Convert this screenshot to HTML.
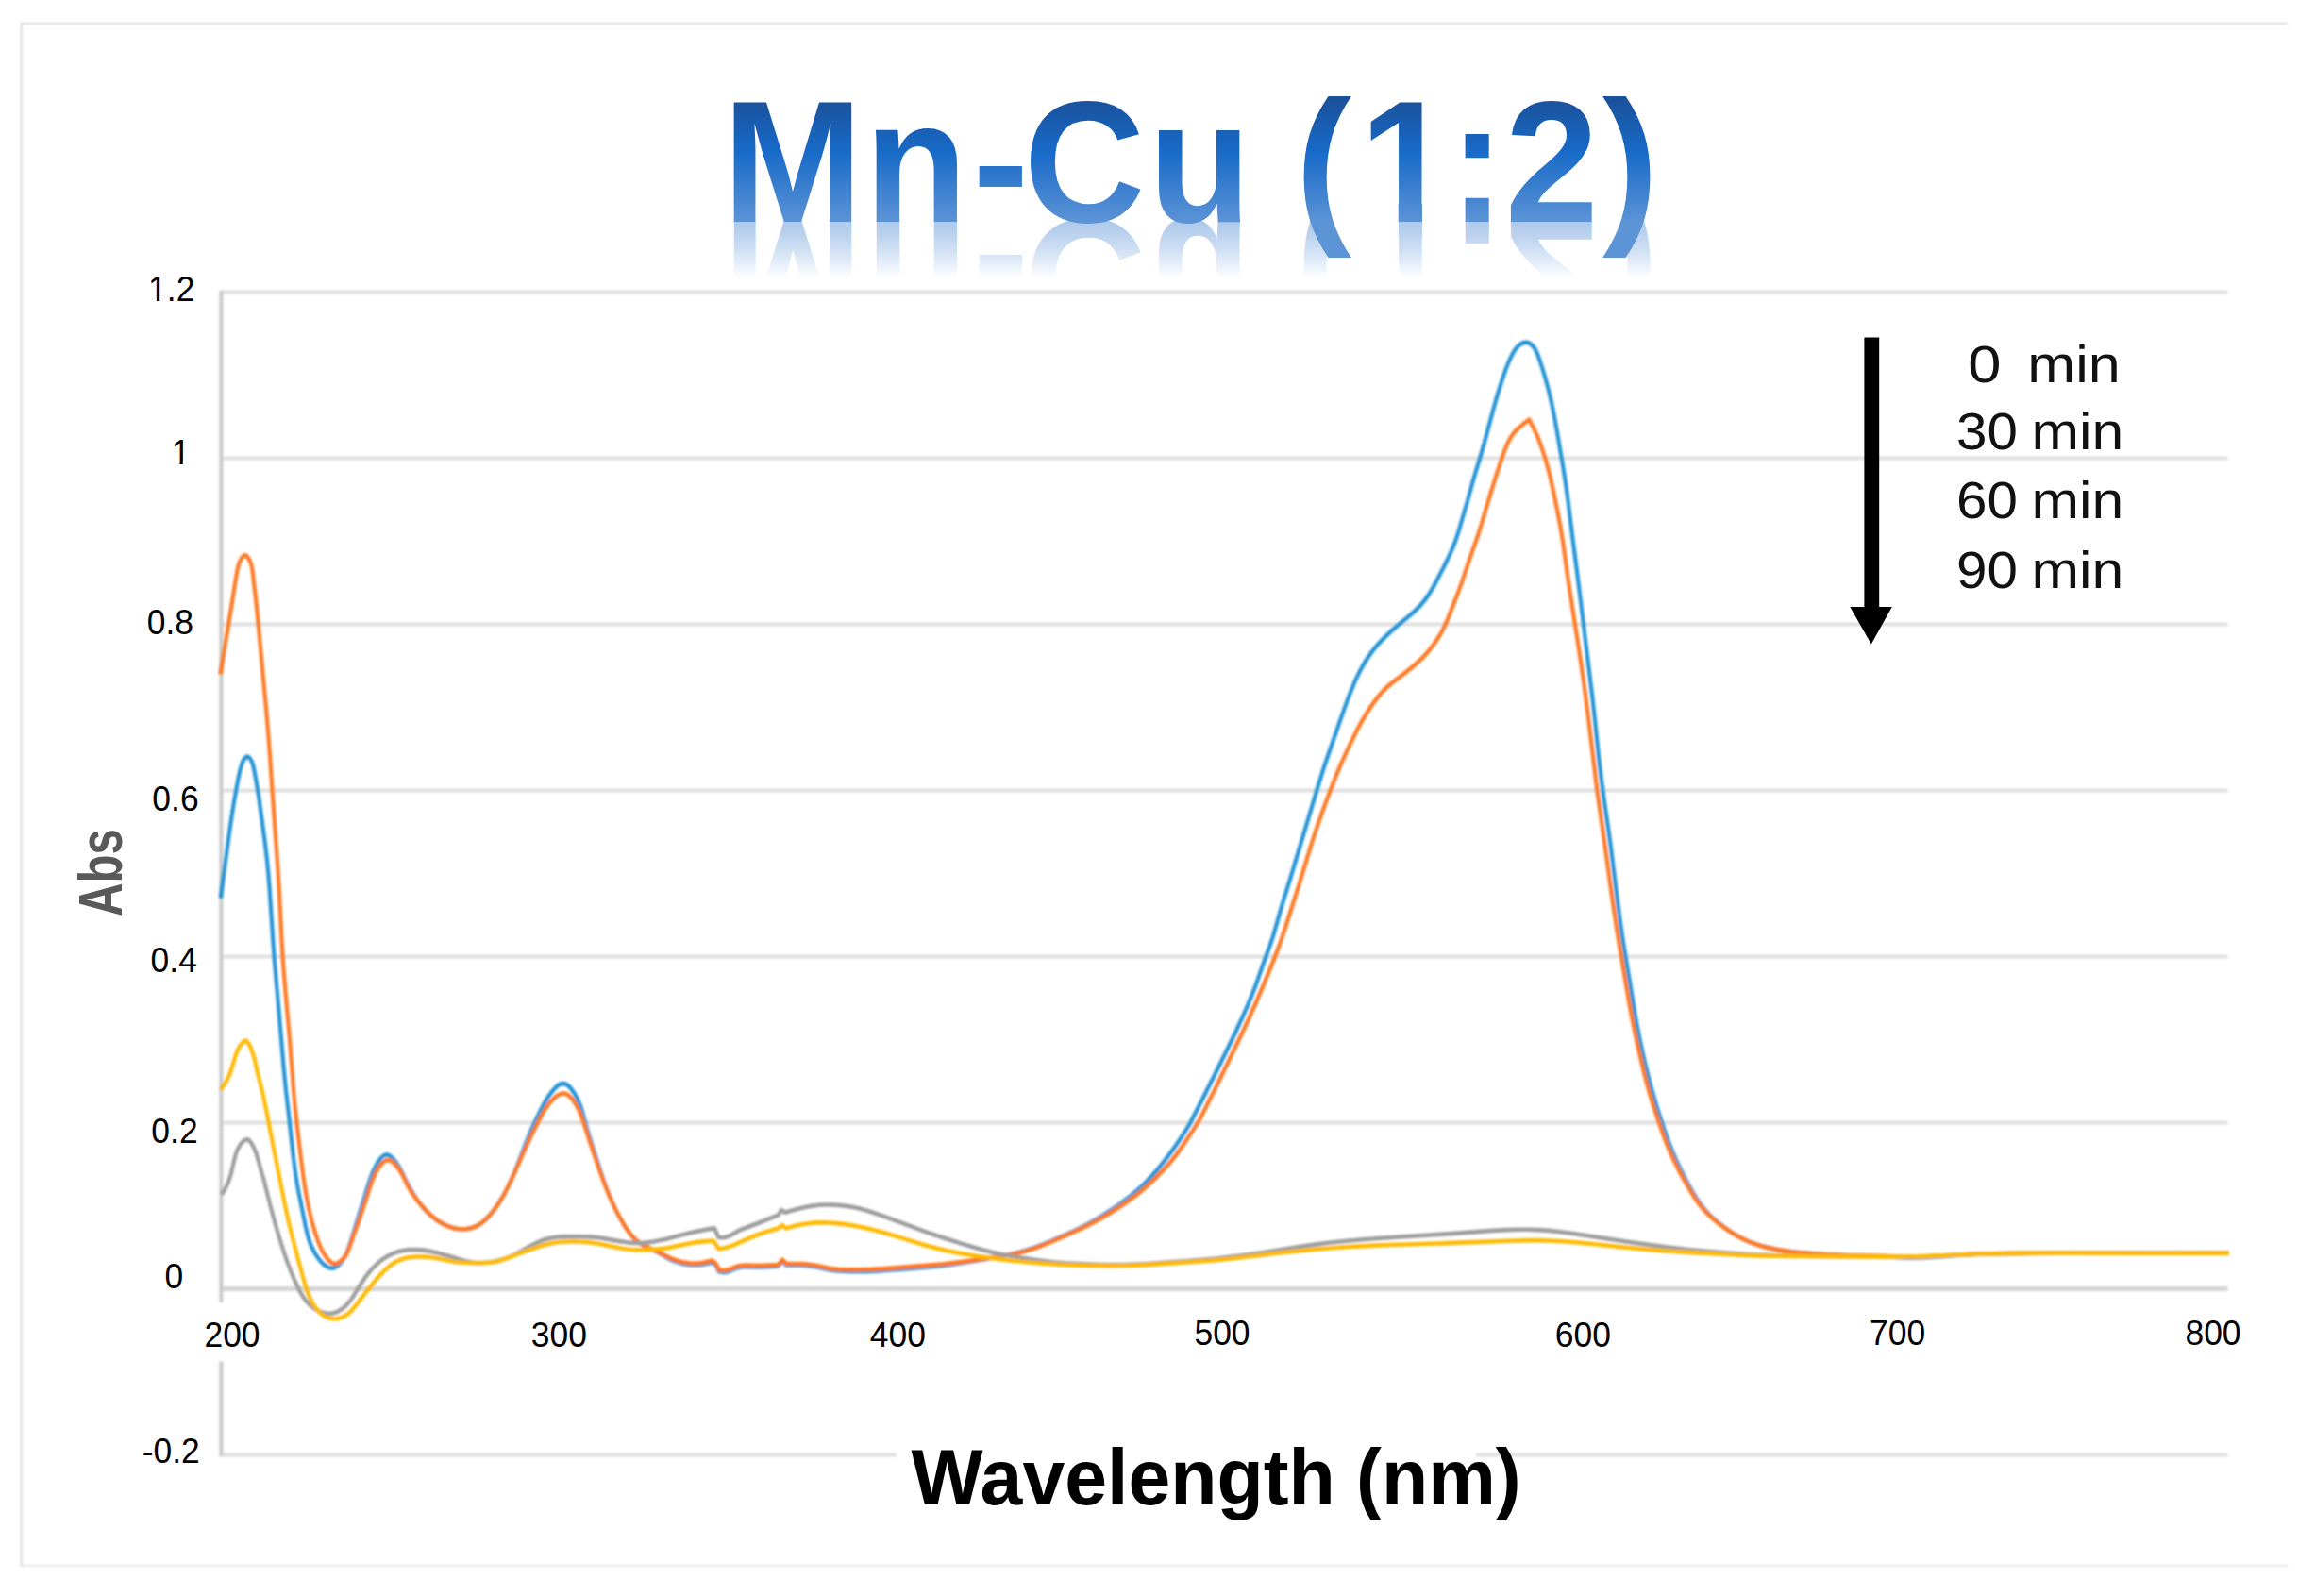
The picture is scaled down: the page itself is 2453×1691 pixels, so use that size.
<!DOCTYPE html>
<html lang="en"><head><meta charset="utf-8"><title>Mn-Cu (1:2) UV-Vis absorbance</title>
<style>html,body{margin:0;padding:0;background:#fff}body{width:2453px;height:1691px;overflow:hidden}svg{display:block}text{font-family:"Liberation Sans",sans-serif}</style></head><body>
<svg width="2453" height="1691" viewBox="0 0 2453 1691">
<defs>
<linearGradient id="tg" gradientUnits="userSpaceOnUse" x1="0" y1="104.5" x2="0" y2="236.5"><stop offset="0" stop-color="#1b519a"/><stop offset="0.42" stop-color="#176ac8"/><stop offset="1" stop-color="#5d94d6"/></linearGradient>
<linearGradient id="rg" gradientUnits="userSpaceOnUse" x1="0" y1="234.5" x2="0" y2="294"><stop offset="0" stop-color="#fff" stop-opacity="0.5"/><stop offset="1" stop-color="#fff" stop-opacity="1"/></linearGradient>
<clipPath id="rc"><rect x="700" y="234" width="1100" height="60"/></clipPath>
<filter id="soft" filterUnits="userSpaceOnUse" x="0" y="0" width="2453" height="1691"><feGaussianBlur stdDeviation="0.8"/></filter>
</defs>
<rect width="2453" height="1691" fill="#fff"/>
<g fill="none" filter="url(#soft)">
<path d="M22 25H2424" stroke="#d9d9d9" stroke-width="1.8"/>
<path d="M22.7 24V1660" stroke="#dcdcdc" stroke-width="2.2"/>
<path d="M22 1659H2424" stroke="#e6e6e6" stroke-width="2"/>
</g>
<g clip-path="url(#rc)">
<g transform="translate(0 468.1) scale(1 -1)"><text aria-hidden="true" font-size="183" font-weight="700" transform="scale(0.973 1)" x="786.9 941.6 1059.3 1114.8 1250.7 1358.7 1410.8 1480.5 1578.0 1638.9 1745.2" y="234.8" fill="url(#tg)">Mn-Cu (1:2)</text></g>
<rect x="700" y="230" width="1100" height="70" fill="url(#rg)"/>
</g>
<g fill="none" stroke-linecap="butt" filter="url(#soft)">
<path d="M234.5 309.5H2360.5" stroke="#e0e0e0" stroke-width="4"/>
<path d="M234.5 485.5H2360.5" stroke="#e0e0e0" stroke-width="4"/>
<path d="M234.5 661.5H2360.5" stroke="#e0e0e0" stroke-width="4"/>
<path d="M234.5 837.5H2360.5" stroke="#e0e0e0" stroke-width="4"/>
<path d="M234.5 1013.5H2360.5" stroke="#e0e0e0" stroke-width="4"/>
<path d="M234.5 1189.5H2360.5" stroke="#e0e0e0" stroke-width="4"/>
<path d="M234.5 1365.5H2360.5" stroke="#d6d6d6" stroke-width="5"/>
<path d="M234.5 1541.5H950M1564 1541.5H2360.5" stroke="#e0e0e0" stroke-width="4"/>
<path d="M234.4 307.7V1380M234.4 1442.6V1543.3" stroke="#cbcbcb" stroke-width="4.2"/>
</g>
<text font-size="183" font-weight="700" transform="scale(0.973 1)" x="786.9 941.6 1059.3 1114.8 1250.7 1358.7 1410.8 1480.5 1578.0 1638.9 1745.2" y="234.8" fill="url(#tg)">Mn-Cu (1:2)</text>
<path d="M1447 214H1481.7V256.5H1447ZM1507 214H1540V256.5H1507Z" fill="#fff"/>
<g filter="url(#soft)"><g fill="none" stroke-width="4.2" stroke-linejoin="round" stroke-linecap="butt" transform="scale(1 1.1)">
<path d="M233.80 865.18L242.76 803.87 245.36 787.28 247.77 773.61 250.80 757.89 252.78 748.66 254.56 741.49 256.06 736.44 256.91 734.33 257.60 732.96 258.89 731.01 259.93 729.84 261.07 729.00 261.67 728.79 262.26 728.77 262.85 728.93 263.44 729.25 264.00 729.71 265.07 730.89 266.00 732.24 266.77 733.62 267.42 735.02 268.18 737.15 269.07 740.74 272.10 755.80 274.07 766.55 280.75 811.27 282.98 828.62 284.42 842.39 285.70 856.90 289.29 906.28 290.82 925.15 295.64 975.17 300.72 1029.56 302.84 1049.12 306.12 1075.14 310.27 1109.89 311.88 1122.18 313.42 1132.27 314.82 1140.16 316.55 1148.73 323.70 1180.90 325.90 1189.44 327.00 1192.93 328.26 1196.38 330.33 1201.09 332.43 1205.01 334.85 1208.80 337.59 1212.43 340.12 1215.31 342.39 1217.40 344.92 1219.22 346.31 1220.00 347.77 1220.67 350.05 1221.34 351.58 1221.49 352.35 1221.45 353.10 1221.34 354.58 1220.93 356.72 1219.89 358.07 1218.98 359.35 1217.95 361.68 1215.66 364.11 1212.61 366.09 1209.41 368.32 1204.75 371.16 1197.21 391.01 1139.12 392.45 1135.17 394.10 1131.15 395.71 1127.70 397.61 1124.13 399.86 1120.40 401.91 1117.50 403.57 1115.55 405.32 1113.95 407.15 1112.81 408.40 1112.37 409.68 1112.23 410.33 1112.28 411.62 1112.62 412.92 1113.24 414.21 1114.09 415.48 1115.12 416.71 1116.29 418.47 1118.20 421.07 1121.47 423.70 1125.34 425.95 1129.17 430.99 1138.69 433.90 1143.78 437.95 1150.07 441.98 1155.59 444.37 1158.56 446.87 1161.44 449.49 1164.21 452.24 1166.88 455.11 1169.42 457.50 1171.36 460.61 1173.65 463.21 1175.37 466.58 1177.35 469.37 1178.80 472.98 1180.39 475.96 1181.49 479.02 1182.40 482.14 1183.12 485.32 1183.62 488.52 1183.88 491.75 1183.88 494.97 1183.61 498.16 1183.07 500.50 1182.49 503.52 1181.48 505.69 1180.54 508.44 1179.06 511.04 1177.35 514.09 1174.96 517.50 1171.83 520.70 1168.54 524.18 1164.53 526.98 1160.98 530.04 1156.70 532.91 1152.33 535.98 1147.21 540.24 1139.37 544.75 1130.04 548.34 1121.95 557.59 1100.23 563.23 1088.04 567.20 1080.04 571.27 1072.26 574.72 1065.98 577.32 1061.64 579.82 1057.91 582.17 1054.75 585.38 1050.89 587.77 1048.38 590.30 1046.17 592.26 1044.87 594.24 1043.97 596.23 1043.59 596.89 1043.59 598.21 1043.79 600.14 1044.54 602.03 1045.74 604.44 1047.91 606.69 1050.52 608.74 1053.37 610.98 1056.97 613.21 1061.19 615.03 1065.32 616.78 1070.08 621.92 1087.01 626.63 1100.92 636.79 1129.46 639.63 1137.01 642.35 1143.85 644.66 1149.29 647.09 1154.68 649.35 1159.34 651.74 1163.94 654.27 1168.48 656.93 1172.96 660.13 1178.02 663.08 1182.39 666.71 1187.22 668.69 1189.51 670.26 1191.16 671.92 1192.72 674.29 1194.67 676.17 1196.04 678.79 1197.72 681.52 1199.27 684.34 1200.68 693.76 1204.72 697.33 1206.37 706.32 1211.14 709.13 1212.53 712.75 1214.06 717.26 1215.57 721.90 1216.74 726.64 1217.62 731.44 1218.20 736.25 1218.43 740.25 1218.33 744.22 1217.92 748.15 1217.26 754.40 1215.91 756.62 1217.20 757.92 1218.20 758.48 1218.77 759.82 1220.75 760.51 1222.22 761.40 1224.55 764.64 1225.18 767.04 1225.42 768.62 1225.39 770.94 1225.00 773.22 1224.29 778.52 1222.17 780.82 1221.38 783.17 1220.81 785.56 1220.46 787.98 1220.27 790.43 1220.21 800.29 1220.46 806.82 1220.43 814.11 1220.16 824.60 1219.55 829.00 1215.00 833.30 1218.64 841.34 1218.56 846.96 1218.63 851.75 1218.83 856.52 1219.20 862.84 1220.05 878.54 1222.94 882.49 1223.49 887.26 1224.01 896.05 1224.60 905.67 1224.82 916.88 1224.68 928.87 1224.20 941.65 1223.46 957.61 1222.37 981.55 1220.61 995.09 1219.44 1003.84 1218.52 1013.35 1217.33 1038.64 1213.62 1052.03 1211.46 1064.61 1209.26 1074.00 1207.41 1081.76 1205.66 1089.45 1203.64 1097.06 1201.35 1105.31 1198.56 1113.45 1195.52 1133.23 1187.59 1143.41 1183.33 1151.99 1179.41 1160.37 1175.15 1166.54 1171.77 1172.64 1168.28 1178.67 1164.69 1184.61 1161.00 1189.82 1157.61 1194.95 1154.11 1199.98 1150.49 1204.28 1147.22 1211.38 1141.35 1214.79 1138.27 1218.65 1134.58 1226.59 1126.39 1234.15 1117.92 1242.28 1108.00 1250.48 1097.23 1257.81 1086.81 1260.66 1082.42 1262.97 1078.60 1275.34 1056.56 1287.88 1033.79 1300.27 1010.96 1309.65 993.26 1316.04 980.71 1321.53 969.40 1326.43 958.64 1330.76 948.46 1340.07 924.44 1345.89 910.11 1348.68 902.52 1351.21 894.86 1358.23 872.46 1368.22 843.28 1396.52 757.57 1402.47 740.20 1406.04 730.55 1423.68 684.52 1429.82 669.51 1434.95 658.05 1437.56 652.73 1440.36 647.49 1442.98 642.99 1445.78 638.56 1448.76 634.24 1451.94 630.03 1455.30 625.95 1458.33 622.57 1461.51 619.29 1465.36 615.59 1469.34 612.00 1473.43 608.51 1481.24 602.26 1494.80 592.05 1499.56 588.15 1502.42 585.59 1505.16 582.93 1509.79 577.91 1513.51 573.18 1517.71 566.99 1521.94 559.95 1530.06 545.73 1534.98 536.58 1538.89 528.60 1542.13 521.16 1544.95 513.58 1554.87 482.86 1561.46 461.12 1568.00 441.63 1570.92 432.55 1574.34 421.33 1582.02 395.34 1585.92 382.73 1590.86 368.12 1593.39 361.22 1595.80 355.06 1598.46 348.98 1601.14 343.67 1603.84 339.13 1605.14 337.25 1606.57 335.46 1608.16 333.81 1609.33 332.80 1611.27 331.45 1612.70 330.70 1614.20 330.12 1615.74 329.77 1617.29 329.71 1618.06 329.80 1618.82 329.97 1620.30 330.51 1621.70 331.27 1623.00 332.19 1624.16 333.22 1625.20 334.33 1626.13 335.52 1627.35 337.42 1629.32 341.50 1631.79 347.76 1634.51 355.38 1637.23 363.70 1639.80 372.10 1641.80 379.16 1643.64 386.25 1645.46 394.08 1647.56 404.08 1650.67 419.84 1656.55 451.40 1659.13 466.50 1661.12 479.47 1666.09 516.30 1671.77 555.98 1674.54 576.19 1687.49 672.97 1689.61 690.33 1693.97 728.68 1696.75 750.37 1699.29 767.67 1704.48 800.07 1706.67 814.48 1713.44 864.31 1715.80 880.91 1718.79 900.36 1721.98 919.05 1726.92 945.60 1732.54 977.20 1734.65 987.94 1736.95 998.65 1739.93 1011.47 1743.32 1024.95 1746.77 1037.66 1750.29 1049.61 1754.30 1062.19 1758.58 1074.70 1763.35 1087.82 1767.38 1098.11 1771.15 1106.92 1775.25 1115.62 1779.97 1124.86 1784.96 1133.97 1789.86 1142.32 1795.06 1150.53 1799.36 1156.68 1803.57 1161.99 1807.66 1166.46 1812.07 1170.67 1817.37 1175.13 1822.96 1179.32 1829.41 1183.69 1836.08 1187.77 1842.27 1191.13 1848.66 1194.12 1854.53 1196.44 1861.31 1198.67 1868.22 1200.56 1875.23 1202.16 1883.07 1203.64 1890.97 1204.84 1898.90 1205.80 1908.45 1206.69 1931.60 1208.26 1949.18 1209.20 1961.17 1209.58 1990.78 1210.20 1998.78 1210.49 2014.76 1211.29 2024.35 1211.47 2033.14 1211.36 2042.74 1210.99 2075.52 1209.00 2092.32 1208.22 2111.51 1207.63 2133.91 1207.23 2157.91 1207.00 2185.12 1206.91 2278.77 1207.04 2362.00 1207.00" stroke="#2193d6"/>
<path d="M233.50 649.45L245.21 584.12 249.83 557.42 251.48 548.97 252.58 544.79 253.97 541.24 255.12 539.06 256.03 537.60 257.05 536.28 258.15 535.28 258.71 534.96 259.28 534.78 259.85 534.77 260.42 534.92 260.98 535.23 262.08 536.20 263.11 537.50 264.03 538.96 264.82 540.44 265.79 542.63 266.51 544.80 267.06 546.94 267.75 551.19 268.84 560.45 271.16 577.85 272.25 587.27 281.94 682.17 284.08 704.64 285.65 723.51 288.88 766.34 294.58 838.92 296.05 861.44 298.57 907.23 300.11 929.01 301.91 949.32 307.28 1004.41 311.33 1053.76 312.85 1068.24 315.02 1086.33 319.23 1118.12 321.10 1131.09 322.70 1141.15 324.23 1149.77 325.96 1158.38 327.77 1166.27 329.63 1173.41 331.92 1181.19 334.48 1188.82 337.32 1196.24 339.69 1201.51 342.21 1206.04 344.88 1209.90 346.43 1211.83 348.13 1213.69 349.34 1214.81 350.61 1215.78 352.62 1216.83 354.01 1217.17 354.72 1217.22 356.17 1217.06 358.35 1216.28 360.47 1215.02 363.05 1212.88 365.21 1210.52 367.38 1207.40 368.80 1204.78 370.28 1201.40 374.68 1189.71 381.74 1171.89 386.15 1160.07 392.89 1141.00 394.18 1137.69 395.64 1134.37 397.33 1131.00 398.90 1128.27 400.71 1125.48 402.78 1122.70 404.47 1120.79 406.28 1119.18 408.17 1118.00 409.48 1117.51 410.81 1117.32 411.48 1117.34 412.84 1117.62 414.20 1118.16 415.55 1118.93 416.87 1119.89 418.16 1120.99 419.99 1122.82 422.68 1126.04 425.33 1129.92 427.55 1133.78 431.58 1141.42 434.21 1145.77 437.21 1150.04 440.50 1154.20 443.49 1157.68 447.12 1161.64 450.33 1164.93 453.10 1167.56 455.98 1170.08 458.38 1172.00 461.51 1174.26 464.13 1175.95 467.54 1177.88 470.36 1179.27 473.28 1180.51 476.27 1181.59 479.34 1182.48 482.46 1183.18 485.64 1183.65 488.04 1183.85 491.26 1183.90 494.49 1183.67 497.68 1183.17 500.03 1182.62 503.07 1181.65 505.26 1180.74 507.36 1179.68 510.02 1178.06 513.13 1175.76 516.05 1173.22 519.34 1169.99 522.42 1166.62 525.32 1163.12 528.04 1159.53 531.04 1155.22 533.85 1150.81 537.97 1143.74 542.14 1135.86 557.05 1105.27 563.51 1092.68 567.43 1085.48 571.47 1078.39 575.22 1072.09 578.03 1067.79 580.25 1064.80 582.75 1061.89 585.01 1059.62 587.53 1057.42 590.28 1055.45 592.43 1054.26 594.61 1053.45 596.78 1053.12 597.49 1053.13 598.89 1053.36 600.92 1054.16 602.87 1055.40 604.71 1056.98 606.99 1059.46 609.04 1062.13 611.25 1065.49 613.14 1068.83 615.05 1072.84 616.93 1077.52 625.02 1100.06 634.63 1125.66 638.98 1136.59 643.03 1146.08 648.05 1156.80 650.75 1162.08 653.24 1166.64 656.23 1171.78 658.98 1176.22 661.86 1180.62 664.46 1184.32 667.75 1188.46 669.80 1190.69 671.44 1192.28 674.99 1195.22 676.89 1196.56 679.55 1198.21 682.31 1199.70 685.89 1201.35 696.19 1205.38 709.09 1211.21 712.02 1212.38 715.01 1213.43 720.36 1214.94 725.07 1215.90 729.85 1216.55 734.66 1216.85 739.48 1216.76 743.45 1216.38 748.16 1215.57 754.40 1214.18 756.62 1215.53 757.92 1216.56 758.47 1217.15 759.81 1219.16 760.51 1220.65 761.40 1223.00 763.87 1223.38 766.32 1223.62 768.73 1223.56 771.09 1223.14 773.42 1222.44 780.37 1219.96 782.75 1219.39 785.97 1218.95 790.90 1218.77 800.02 1219.00 806.62 1218.99 813.99 1218.75 824.60 1218.18 829.00 1213.36 833.30 1217.27 846.17 1217.24 850.97 1217.41 855.75 1217.76 858.91 1218.11 862.85 1218.70 877.78 1221.45 882.53 1222.07 887.31 1222.51 896.92 1222.95 909.77 1222.96 923.38 1222.61 937.76 1221.89 987.29 1218.54 1000.05 1217.53 1014.36 1216.01 1044.51 1212.22 1059.56 1210.16 1071.40 1208.27 1079.23 1206.75 1086.21 1205.12 1093.11 1203.24 1100.69 1200.87 1107.43 1198.53 1114.83 1195.75 1141.23 1185.20 1147.76 1182.44 1154.22 1179.52 1160.59 1176.46 1166.88 1173.25 1174.47 1169.18 1181.28 1165.35 1188.00 1161.38 1193.95 1157.68 1199.81 1153.86 1205.55 1149.89 1210.54 1146.22 1215.39 1142.42 1220.11 1138.48 1224.68 1134.40 1230.82 1128.65 1235.73 1123.85 1239.44 1120.03 1242.52 1116.68 1245.98 1112.67 1249.33 1108.58 1255.26 1100.80 1268.08 1083.19 1270.11 1080.06 1272.01 1076.86 1286.47 1050.86 1307.13 1012.24 1317.83 991.87 1324.86 977.98 1331.32 964.66 1339.11 947.89 1347.93 928.36 1352.06 918.88 1355.17 911.39 1357.87 904.54 1360.94 896.26 1374.84 856.73 1389.87 812.18 1394.32 799.72 1398.46 788.69 1405.59 770.91 1414.79 749.16 1420.62 736.38 1426.59 724.46 1437.05 704.79 1440.37 698.98 1443.47 693.89 1447.58 687.64 1451.48 682.12 1456.06 676.12 1459.95 671.45 1462.49 668.63 1465.15 665.91 1467.94 663.30 1470.85 660.82 1476.40 656.64 1488.54 648.27 1495.43 643.28 1501.48 638.51 1507.26 633.46 1510.56 630.29 1513.22 627.56 1518.22 621.86 1522.81 615.89 1524.93 612.80 1527.34 609.01 1529.22 605.80 1531.35 601.88 1534.86 594.54 1545.23 570.07 1549.35 559.82 1557.43 537.71 1564.15 520.56 1566.71 513.67 1570.29 503.24 1580.13 473.24 1584.88 459.34 1591.60 440.65 1593.75 435.16 1595.51 431.09 1597.80 426.42 1600.03 422.52 1602.14 419.42 1604.53 416.51 1606.67 414.36 1609.59 411.88 1613.30 409.07 1620.20 404.09 1625.49 413.07 1627.53 417.03 1629.40 421.05 1631.70 426.49 1634.39 433.35 1636.66 439.57 1638.52 445.14 1641.79 456.40 1645.52 471.30 1650.39 492.68 1653.94 509.85 1656.79 526.39 1661.25 555.96 1663.32 568.92 1673.11 625.73 1677.42 652.37 1680.09 670.40 1683.12 692.07 1690.55 748.43 1692.65 763.60 1700.32 812.60 1706.84 855.86 1710.02 876.04 1713.03 894.03 1716.19 911.99 1725.81 963.66 1729.72 982.99 1734.15 1002.22 1738.19 1018.56 1741.51 1031.31 1744.68 1042.59 1747.68 1052.41 1751.64 1064.25 1756.12 1076.70 1761.37 1090.46 1765.58 1100.68 1769.24 1108.76 1773.53 1117.39 1778.13 1125.88 1783.39 1134.87 1788.97 1143.71 1794.86 1152.40 1799.37 1158.43 1803.78 1163.60 1808.05 1167.92 1813.22 1172.49 1818.71 1176.77 1824.45 1180.79 1831.05 1184.99 1837.83 1188.89 1844.12 1192.09 1850.60 1194.92 1856.53 1197.12 1863.36 1199.25 1870.30 1201.06 1877.32 1202.58 1885.18 1203.98 1893.09 1205.12 1901.84 1206.11 1911.40 1206.95 1928.17 1208.01 1945.77 1208.76 1958.57 1209.08 1989.79 1209.60 2014.59 1210.48 2024.19 1210.62 2032.19 1210.53 2041.79 1210.23 2073.80 1208.65 2089.00 1208.06 2106.61 1207.61 2127.42 1207.31 2156.24 1207.08 2188.26 1206.98 2362.00 1207.00" stroke="#ff7820"/>
<path d="M234.80 1150.64L237.71 1146.27 239.63 1143.07 241.32 1139.77 242.78 1136.38 244.04 1132.90 245.35 1128.67 248.54 1115.95 249.54 1112.49 250.83 1109.07 252.55 1105.68 254.34 1103.01 255.98 1101.02 257.83 1099.22 259.12 1098.28 260.43 1097.67 261.72 1097.47 262.96 1097.77 263.56 1098.09 264.70 1099.00 266.29 1100.87 268.54 1104.52 270.29 1108.07 271.90 1112.19 279.96 1137.86 286.22 1160.46 289.50 1171.73 292.77 1182.26 295.97 1192.04 300.80 1205.90 304.98 1216.88 309.29 1227.08 313.45 1235.85 317.38 1243.17 319.36 1246.39 321.07 1248.88 322.91 1251.28 324.89 1253.57 327.03 1255.72 328.75 1257.24 331.21 1259.12 333.18 1260.40 335.95 1261.92 338.12 1262.90 341.13 1263.97 343.47 1264.59 345.86 1265.01 348.27 1265.22 350.67 1265.17 353.04 1264.85 355.35 1264.25 357.59 1263.42 359.75 1262.37 362.48 1260.72 364.40 1259.33 366.77 1257.32 369.97 1254.05 372.83 1250.53 375.47 1246.86 383.10 1235.61 385.80 1231.96 388.63 1228.41 391.61 1224.98 394.78 1221.69 398.15 1218.57 401.14 1216.11 404.28 1213.81 406.91 1212.09 410.32 1210.14 413.15 1208.74 416.06 1207.50 419.05 1206.45 422.12 1205.57 425.24 1204.86 430.80 1204.01 434.01 1203.74 437.23 1203.61 443.66 1203.74 446.86 1203.99 450.85 1204.44 457.98 1205.61 465.02 1207.15 472.72 1209.14 488.06 1213.43 495.05 1215.08 498.98 1215.77 502.95 1216.22 506.95 1216.43 511.78 1216.39 517.41 1215.97 523.80 1215.03 530.08 1213.68 536.22 1211.93 541.44 1210.08 546.51 1207.93 551.45 1205.55 564.10 1199.13 568.42 1197.16 572.09 1195.67 576.58 1194.14 580.40 1193.12 585.07 1192.23 589.82 1191.64 596.24 1191.23 603.53 1191.09 618.06 1191.14 626.85 1191.45 631.62 1191.82 637.16 1192.48 656.12 1195.55 664.07 1196.61 668.06 1196.97 672.06 1197.20 676.06 1197.27 680.07 1197.16 684.07 1196.90 688.06 1196.49 692.82 1195.85 697.55 1195.05 706.94 1193.15 727.92 1188.26 737.28 1186.25 745.92 1184.68 757.00 1183.09 761.40 1191.82 764.72 1191.99 767.16 1191.93 769.52 1191.56 772.54 1190.57 774.74 1189.56 781.99 1185.77 787.23 1183.58 802.55 1178.40 824.60 1170.36 828.00 1165.45 831.60 1167.91 844.70 1164.55 850.15 1163.34 854.85 1162.43 859.59 1161.67 864.35 1161.08 868.33 1160.73 873.13 1160.50 877.94 1160.45 883.55 1160.60 889.15 1160.94 894.73 1161.45 900.29 1162.16 905.01 1162.94 909.70 1163.89 914.34 1164.99 922.78 1167.31 932.65 1170.38 949.22 1175.80 981.50 1186.68 990.57 1189.57 1000.44 1192.56 1018.75 1197.86 1032.55 1201.63 1044.92 1204.68 1056.61 1207.20 1066.81 1209.09 1078.64 1210.96 1099.22 1213.83 1111.92 1215.35 1119.09 1216.00 1127.87 1216.58 1161.46 1218.02 1171.87 1218.26 1182.28 1218.31 1191.89 1218.19 1202.29 1217.87 1215.89 1217.23 1235.86 1216.07 1267.80 1213.94 1290.92 1211.98 1313.98 1209.51 1338.56 1206.39 1376.54 1200.98 1391.59 1198.96 1407.46 1197.11 1424.98 1195.42 1441.73 1194.08 1460.90 1192.76 1536.80 1188.33 1581.52 1185.33 1595.91 1184.61 1608.71 1184.29 1619.92 1184.34 1630.33 1184.68 1641.51 1185.38 1651.86 1186.35 1665.35 1188.01 1724.73 1196.11 1744.55 1198.71 1767.57 1201.44 1789.05 1203.61 1812.17 1205.59 1834.52 1207.18 1852.90 1208.18 1873.70 1208.95 1895.31 1209.49 1920.93 1209.92 1944.15 1210.15 1985.78 1210.32 2013.00 1210.86 2021.00 1210.91 2029.80 1210.78 2039.40 1210.44 2072.19 1208.72 2085.79 1208.15 2103.40 1207.67 2123.41 1207.35 2153.03 1207.11 2186.66 1206.99 2362.00 1207.00" stroke="#9e9e9e"/>
<path d="M234.00 1049.45L236.76 1045.87 238.92 1042.80 240.48 1040.26 242.21 1036.97 243.74 1033.58 245.36 1029.44 249.01 1018.38 250.25 1014.98 252.14 1010.93 254.23 1007.56 255.76 1005.54 257.48 1003.73 258.67 1002.89 259.84 1002.52 260.41 1002.56 260.97 1002.73 262.04 1003.46 263.04 1004.59 264.43 1006.77 265.66 1009.21 267.03 1012.34 268.14 1015.31 269.05 1018.14 269.99 1021.55 272.66 1032.33 277.19 1048.68 279.21 1056.56 281.99 1068.67 289.76 1105.11 300.55 1154.40 303.63 1167.95 306.24 1178.62 309.30 1189.94 317.41 1218.10 321.17 1230.78 323.64 1238.53 326.23 1245.46 327.74 1248.84 329.08 1251.49 330.56 1254.08 332.19 1256.61 334.00 1259.05 335.99 1261.39 338.18 1263.56 339.96 1265.05 341.86 1266.39 343.90 1267.58 346.06 1268.57 348.33 1269.36 350.68 1269.92 353.08 1270.22 354.69 1270.26 357.10 1270.10 359.49 1269.67 361.82 1269.00 363.32 1268.43 365.49 1267.42 367.53 1266.24 369.43 1264.91 372.35 1262.42 375.53 1259.11 387.31 1245.15 398.33 1232.69 403.65 1227.24 408.20 1223.09 411.23 1220.65 414.41 1218.38 417.06 1216.72 419.82 1215.23 422.68 1213.95 425.66 1212.90 428.72 1212.06 431.86 1211.42 435.86 1210.86 440.70 1210.50 445.55 1210.40 450.37 1210.53 455.96 1210.95 461.52 1211.64 466.25 1212.42 479.60 1214.93 483.55 1215.49 487.51 1215.88 494.71 1216.24 507.61 1216.41 514.06 1216.31 519.66 1215.95 522.82 1215.58 525.95 1215.06 529.05 1214.38 532.11 1213.55 536.66 1212.11 550.16 1207.38 562.95 1203.13 571.31 1200.53 577.47 1198.88 582.91 1197.69 588.42 1196.82 594.79 1196.18 601.21 1195.87 607.65 1195.81 614.08 1195.94 619.69 1196.22 625.28 1196.68 630.04 1197.24 634.77 1197.96 652.81 1201.42 660.71 1202.66 665.48 1203.18 671.08 1203.59 675.89 1203.79 681.51 1203.85 687.13 1203.74 691.94 1203.52 697.53 1203.10 702.31 1202.61 707.07 1201.98 711.81 1201.23 729.07 1197.90 736.15 1196.74 740.12 1196.25 744.89 1195.80 756.10 1195.09 761.40 1203.00 766.24 1202.23 769.43 1201.59 772.56 1200.79 775.64 1199.83 780.94 1197.85 793.65 1192.61 801.99 1189.55 811.26 1186.64 824.60 1183.09 829.00 1179.91 832.50 1183.09 843.36 1180.53 851.19 1179.05 858.33 1178.12 862.33 1177.79 866.33 1177.60 871.13 1177.53 876.74 1177.67 882.34 1177.99 888.72 1178.51 895.09 1179.17 901.43 1179.99 906.96 1180.84 913.24 1181.98 924.15 1184.32 937.30 1187.56 951.12 1191.26 976.38 1198.31 989.49 1201.65 998.05 1203.56 1007.44 1205.42 1016.87 1207.08 1026.34 1208.56 1041.38 1210.64 1056.46 1212.50 1069.98 1213.96 1085.91 1215.43 1103.46 1216.85 1117.83 1217.79 1130.63 1218.38 1144.23 1218.75 1177.07 1219.17 1187.48 1219.14 1197.08 1218.96 1213.87 1218.25 1268.23 1215.15 1284.99 1213.99 1300.13 1212.67 1313.66 1211.30 1352.62 1207.05 1380.50 1204.42 1395.65 1203.17 1410.81 1202.06 1425.19 1201.13 1439.58 1200.33 1454.77 1199.64 1470.77 1199.07 1532.40 1197.37 1598.02 1195.22 1620.43 1194.65 1630.04 1194.69 1641.24 1194.98 1652.44 1195.48 1663.62 1196.17 1682.77 1197.70 1721.00 1201.30 1738.53 1202.85 1756.08 1204.20 1774.45 1205.40 1793.64 1206.44 1838.41 1208.62 1855.21 1209.22 1872.82 1209.62 1901.65 1209.93 2013.75 1210.57 2024.15 1210.44 2036.16 1210.13 2075.36 1208.59 2094.57 1207.97 2116.18 1207.49 2138.60 1207.19 2180.24 1207.01 2274.72 1207.24 2362.00 1207.18" stroke="#ffb900"/>
</g></g>
<g font-size="36.9" fill="#000" text-anchor="middle">
<text transform="translate(181.7 319.0) scale(0.961 1)">1.2</text>
<text transform="translate(191.5 491.8) scale(0.961 1)">1</text>
<text transform="translate(180.4 672.0) scale(0.961 1)">0.8</text>
<text transform="translate(186.0 859.2) scale(0.961 1)">0.6</text>
<text transform="translate(184.2 1029.5) scale(0.961 1)">0.4</text>
<text transform="translate(185.0 1210.8) scale(0.961 1)">0.2</text>
<text transform="translate(184.3 1365.0) scale(0.961 1)">0</text>
<text transform="translate(181.3 1550.2) scale(0.961 1)">-0.2</text>
<text transform="translate(246.0 1426.6) scale(0.961 1)">200</text>
<text transform="translate(592.4 1426.6) scale(0.961 1)">300</text>
<text transform="translate(951.3 1426.6) scale(0.961 1)">400</text>
<text transform="translate(1295.0 1425.3) scale(0.961 1)">500</text>
<text transform="translate(1677.3 1426.6) scale(0.961 1)">600</text>
<text transform="translate(2010.6 1425.3) scale(0.961 1)">700</text>
<text transform="translate(2345.0 1425.2) scale(0.961 1)">800</text>
</g>
<path d="M183.1 488.6H190.5V492.6H183.1ZM193.8 488.6H200.9V492.6H193.8ZM158.6 315.8H165.9V319.8H158.6ZM169.2 315.8H176V319.8H169.2Z" fill="#fff"/>
<text transform="translate(129 971) rotate(-90) scale(0.767 1)" font-size="64" font-weight="700" fill="#595959">Abs</text>
<text transform="translate(965.5 1593.6) scale(0.956 1)" font-size="84.3" font-weight="700" fill="#000">Wavelength (nm)</text>
<path d="M1975.4 357.4H1991.2V643H2004.8L1982.8 682.5L1960.3 643H1975.4Z" fill="#000"/>
<g font-size="55" fill="#111">
<text y="404.7"><tspan x="2085.3" textLength="35.2" lengthAdjust="spacingAndGlyphs">0</tspan><tspan x="2131.4" textLength="115.3" lengthAdjust="spacingAndGlyphs"> min</tspan></text>
<text y="475.6"><tspan x="2073.0" textLength="64.9" lengthAdjust="spacingAndGlyphs">30</tspan><tspan x="2135.6" textLength="114.6" lengthAdjust="spacingAndGlyphs"> min</tspan></text>
<text y="549.1"><tspan x="2073.0" textLength="64.9" lengthAdjust="spacingAndGlyphs">60</tspan><tspan x="2135.6" textLength="114.6" lengthAdjust="spacingAndGlyphs"> min</tspan></text>
<text y="622.6"><tspan x="2073.0" textLength="64.9" lengthAdjust="spacingAndGlyphs">90</tspan><tspan x="2135.6" textLength="114.6" lengthAdjust="spacingAndGlyphs"> min</tspan></text>
</g>
</svg></body></html>
